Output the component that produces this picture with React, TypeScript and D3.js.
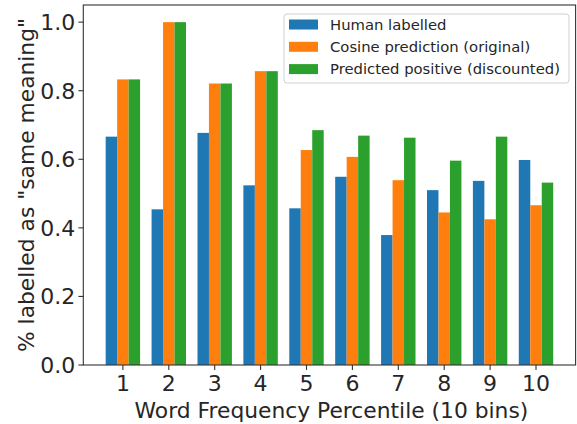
import React from 'react';
import * as d3 from 'd3';

const bins = [1, 2, 3, 4, 5, 6, 7, 8, 9, 10];
const humanLabelled = [0.666, 0.454, 0.677, 0.524, 0.457, 0.549, 0.379, 0.51, 0.537, 0.598];
const cosinePrediction = [0.833, 1.0, 0.821, 0.857, 0.627, 0.607, 0.539, 0.445, 0.425, 0.466];
const predictedPositive = [0.833, 1.0, 0.821, 0.857, 0.685, 0.669, 0.663, 0.596, 0.666, 0.532];
const yTicks = [0.0, 0.2, 0.4, 0.6, 0.8, 1.0];
const seriesNames = [
  'Human labelled',
  'Cosine prediction (original)',
  'Predicted positive (discounted)',
];
const colors = ['#1f77b4', '#ff7f0e', '#2ca02c'];

const W = 577;
const H = 424;
const left = 83.3;
const right = 575.6;
const top = 5;
const bottom = 365;
const barW = 0.25;

const App = () => {
  const series = [humanLabelled, cosinePrediction, predictedPositive];

  // matplotlib-style 5% margins around the bar extent
  const lo = bins[0] - 1.5 * barW;
  const hi = bins[bins.length - 1] + 1.5 * barW;
  const pad = (hi - lo) * 0.05;
  const x = d3.scaleLinear().domain([lo - pad, hi + pad]).range([left, right]);
  const y = d3.scaleLinear().domain([0, 1.05]).range([bottom, top]);
  const font = 'DejaVu Sans, sans-serif';

  return (
    <svg
      width={W}
      height={H}
      style={{ position: 'absolute', left: 0, top: 0, background: '#fff' }}
      fontFamily={font}
    >
      <rect x={0} y={0} width={W} height={H} fill="#fff" />
      {series.map((vals, si) => (
        <g key={si} fill={colors[si]}>
          {vals.map((v, i) => {
            const x0 = x(bins[i] + (si - 1) * barW - barW / 2);
            const x1 = x(bins[i] + (si - 1) * barW + barW / 2);
            return (
              <rect key={i} x={x0} y={y(v)} width={x1 - x0} height={y(0) - y(v)} />
            );
          })}
        </g>
      ))}

      {/* axes frame */}
      <rect
        x={left}
        y={top}
        width={right - left}
        height={bottom - top}
        fill="none"
        stroke="#333"
        strokeWidth={1.1}
      />

      {/* y ticks */}
      {yTicks.map((t) => (
        <g key={t} transform={`translate(0,${y(t)})`}>
          <line x1={left - 4.9} x2={left} stroke="#333" strokeWidth={1.1} />
          <text x={left - 8} dy="0.36em" textAnchor="end" fontSize={22} fill="#262626">
            {t.toFixed(1)}
          </text>
        </g>
      ))}

      {/* x ticks */}
      {bins.map((b) => (
        <g key={b} transform={`translate(${x(b)},0)`}>
          <line y1={bottom} y2={bottom + 4.9} stroke="#333" strokeWidth={1.1} />
          <text y={bottom + 25.5} textAnchor="middle" fontSize={22} fill="#262626">
            {b}
          </text>
        </g>
      ))}

      <text
        x={(left + right) / 2 + 2}
        y={418}
        textAnchor="middle"
        fontSize={21.8}
        fill="#262626"
      >
        Word Frequency Percentile (10 bins)
      </text>
      <text
        transform={`translate(34,${(top + bottom) / 2}) rotate(-90)`}
        textAnchor="middle"
        fontSize={21.8}
        fill="#262626"
      >
        % labelled as "same meaning"
      </text>

      {/* legend */}
      <g>
        <rect
          x={284}
          y={14}
          width={285}
          height={69}
          rx={3}
          fill="#fff"
          fillOpacity={0.8}
          stroke="#d0d0d0"
          strokeWidth={1}
        />
        {seriesNames.map((name, i) => (
          <g key={name} transform={`translate(0,${24.5 + i * 22.3})`}>
            <rect x={289} y={-5} width={29} height={10} fill={colors[i]} />
            <text x={330} dy="0.36em" fontSize={14.8} fill="#262626">
              {name}
            </text>
          </g>
        ))}
      </g>
    </svg>
  );
};

export default App;
